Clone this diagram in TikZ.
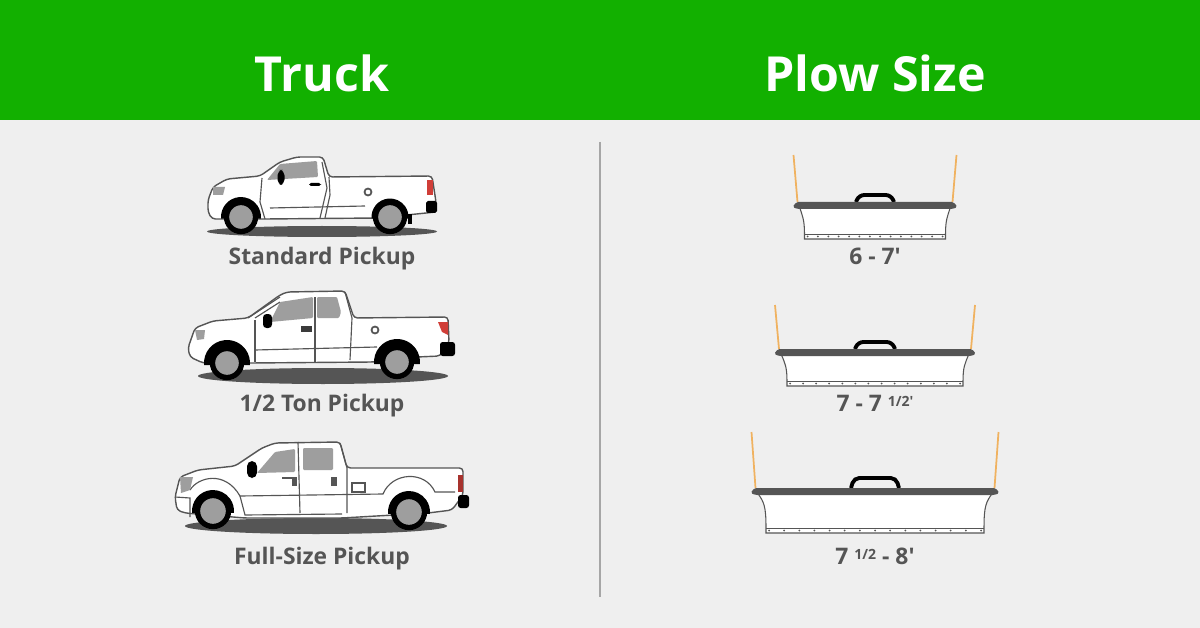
\documentclass[tikz,border=0pt]{standalone}
\usepackage{fontspec}
\setmainfont{Open Sans}
\definecolor{headgreen}{RGB}{18,176,0}
\definecolor{pagegray}{RGB}{239,239,239}
\definecolor{inkgray}{RGB}{85,85,85}
\definecolor{glassgray}{RGB}{158,158,158}
\definecolor{plowrope}{RGB}{240,178,96}
\definecolor{lampred}{RGB}{208,62,56}
\tikzset{
  title/.style={text=white,font=\fontsize{27.5}{32}\selectfont\bfseries},
  caption/.style={text=inkgray,font=\fontsize{13}{15}\selectfont\bfseries},
  body/.style={draw=inkgray,line width=0.8pt,fill=white,rounded corners=2pt},
  trim/.style={draw=inkgray,line width=0.65pt},
  glass/.style={fill=glassgray,rounded corners=0.6pt},
  tyre/.style={draw=black,line width=3pt,fill=glassgray},
  shade/.style={fill=inkgray},
  lamp/.style={fill=lampred},
  bar/.style={fill=inkgray,rounded corners=1pt},
  blade/.style={draw=inkgray,line width=0.6pt,fill=white},
  grip/.style={draw=black,line width=2.2pt,rounded corners=3pt},
  rope/.style={draw=plowrope,line width=1pt}
}
\newcommand{\truckwheel}[4]{
  \fill[black] ([shift={(175:#4)}]#1,#2) arc[start angle=175,end angle=365,radius=#4] -- cycle;
  \draw[tyre] (#1,#2) circle[radius=#3];
}
\begin{document}
\begin{tikzpicture}[x=0.02cm,y=-0.02cm]
  \useasboundingbox (0,0) rectangle (1200,628);
  \fill[pagegray] (0,0) rectangle (1200,628);
  \fill[headgreen] (0,0) rectangle (1200,120);
  \node[title] (trucktitle) at (322,73) {Truck};
  \node[title] (plowtitle) at (875,73) {Plow Size};
  \draw[draw=gray!70,line width=1.1pt] (600,142) -- (600,597);

  % standard pickup
  \fill[shade] (322,231.5) ellipse[x radius=115,y radius=5.5];
  \draw[body] (208,200) -- (213,187) -- (227,179) -- (260,176) -- (280,162) -- (297,157) -- (323,157)
    -- (329,177) -- (432,176) -- (436,202) -- (436,212) -- (377,218) -- (265,219) -- (212,219) -- (208,212) -- cycle;
  \fill[black] (408,214) rectangle (412,224);
  \truckwheel{241}{217}{14.5}{20}
  \truckwheel{390}{217}{14.5}{18.5}
  \draw[trim] (262,178) -- (260,202) -- (265,219);
  \draw[trim] (322,162) -- (327,188) -- (320,218);
  \draw[trim] (329,177) -- (330,195) -- (325,218);
  \draw[trim] (270,208) -- (365,206);
  \fill[glass] (267,180) -- (280,164) -- (317,161) -- (318,177) -- cycle;
  \fill[black,rounded corners=3pt] (277.5,170) rectangle (284.5,185);
  \fill[black,rounded corners=1pt] (309,183) rectangle (321,186);
  \draw[trim,line width=1pt] (368,192) circle[radius=3.5];
  \fill[glassgray] (213,187) -- (225,187) -- (223,195) -- (213,195) -- cycle;
  \fill[lamp] (427,180) rectangle (433,195);
  \fill[black,rounded corners=1pt] (426,201) rectangle (437,213);
  \node[caption] (standardcap) at (322,258.5) {Standard Pickup};

  % half ton pickup
  \fill[shade] (323,376) ellipse[x radius=125,y radius=8];
  \draw[body] (188,348) -- (195,328) -- (213,321) -- (248,318) -- (280,295) -- (287,292) -- (345,291)
    -- (354,318) -- (448,317) -- (449,343) -- (440,356) -- (417,357) -- (373,362) -- (250,363) -- (203,363) -- (190,357) -- cycle;
  \truckwheel{227}{363}{14.5}{23}
  \truckwheel{397}{362}{14.5}{23}
  \draw[trim] (255,320) -- (255,362);
  \draw[trim] (315,297) -- (315,362);
  \draw[trim] (345,292) -- (352,318) -- (350,360);
  \draw[trim] (255,350) -- (377,347);
  \draw[trim] (248,318) -- (280,297);
  \draw[trim] (255,318) -- (280,302);
  \fill[glass] (270,322) -- (280,302) -- (313,297) -- (313,318) -- cycle;
  \fill[glass] (317,297) -- (337,297) -- (341,312) -- (339,318) -- (317,318) -- cycle;
  \fill[black,rounded corners=2pt] (263,314) rectangle (272,328);
  \fill[inkgray!70!black] (301,326) rectangle (312,332);
  \draw[trim,line width=1pt] (375,330) circle[radius=3.5];
  \fill[glassgray] (195,330) -- (205,330) -- (204,339) -- (197,340) -- cycle;
  \fill[lamp] (438,322) -- (448,322) -- (448,335) -- (442,332) -- cycle;
  \fill[black,rounded corners=1.5pt] (440,342) rectangle (455,356);
  \node[caption] (halftoncap) at (322,405.5) {1/2 Ton Pickup};

  % full size pickup
  \fill[shade] (316,526) ellipse[x radius=131,y radius=8];
  \draw[body] (175,497) -- (180,477) -- (198,470) -- (235,466) -- (262,448) -- (275,443) -- (340,442)
    -- (347,468) -- (463,468) -- (463,495) -- (452,510) -- (428,513) -- (342,518) -- (245,518) -- (185,513) -- (177,510) -- cycle;
  \draw[trim] (190,490) .. controls (198,477) and (225,470) .. (240,496) -- (383,494)
    .. controls (392,472) and (425,470) .. (435,492) -- (455,492);
  \truckwheel{213}{511}{15.5}{21}
  \truckwheel{409}{512}{15.5}{21}
  \draw[trim] (298,442) -- (300,513);
  \draw[trim] (340,443) -- (347,468) -- (347,513);
  \draw[trim] (240,496) -- (245,515) -- (342,514);
  \fill[glass] (257,473) -- (275,452) -- (295,449) -- (295,472) -- cycle;
  \fill[glass] (303,448) rectangle (333,470);
  \fill[black,rounded corners=3pt] (247,461) rectangle (257,478);
  \fill[inkgray] (292,477) rectangle (297,486);
  \draw[trim] (282,478) -- (292,478);
  \fill[inkgray] (331,477) rectangle (337,486);
  \draw[trim,fill=white] (352,483) rectangle (365,492);
  \fill[glassgray] (180,477) -- (193,477) -- (190,490) -- (181,493) -- cycle;
  \fill[lampred!80!black] (458,475) -- (463,475) -- (463,492) -- (458,492) -- cycle;
  \fill[black,rounded corners=1.5pt] (458,495) rectangle (469,508);
  \draw[trim] (175,497) -- (190,498) -- (190,517);
  \node[caption] (fullsizecap) at (322,558.5) {Full-Size Pickup};

  % plows, half width / bar top / blade bottom / inset / rope top / grip half width / grip height
  \foreach \hw/\ty/\by/\ins/\ry/\gw/\gh/\bn in {82.5/202/239/12/155/19/7/13,101/349/386/13/305/20/7/13,124.5/488/533/15.5/432/24/10/14}{
    \draw[rope] ({875-\hw+1},\ry) -- ({875-\hw+5},\ty);
    \draw[rope] ({875+\hw-1},\ry) -- ({875+\hw-5},\ty);
    \draw[grip] ({875-\gw},\ty) -- ({875-\gw+3},{\ty-\gh}) -- ({875+\gw-3},{\ty-\gh}) -- ({875+\gw},\ty);
    \draw[blade] ({875-\hw+7},{\ty+5}) .. controls ({875-\hw+\ins-2},{\ty+14}) and ({875-\hw+\ins},{\ty+18}) .. ({875-\hw+\ins},{\by-5})
      -- ({875-\hw+\ins},\by) -- ({875+\hw-\ins},\by) -- ({875+\hw-\ins},{\by-5})
      .. controls ({875+\hw-\ins},{\ty+18}) and ({875+\hw-\ins+2},{\ty+14}) .. ({875+\hw-7},{\ty+5});
    \draw[blade] ({875-\hw+\ins},{\by-4.5}) -- ({875+\hw-\ins},{\by-4.5});
    \foreach \k in {0,...,\bn}
      \fill[inkgray] ({875-\hw+\ins+3+\k*(2*\hw-2*\ins-6)/\bn},{\by-2.5}) circle[radius=1];
    \fill[bar] ({875-\hw},{\ty+5}) -- ({875-\hw+4},\ty) -- ({875+\hw-4},\ty) -- ({875+\hw},{\ty+5}) -- ({875+\hw-5},{\ty+7}) -- ({875-\hw+5},{\ty+7}) -- cycle;
  }
  \node[caption] (sizeone) at (875,256.5) {6 - 7′};
  \node[caption] (sizetwo) at (875,403.5) {7 - 7 \raisebox{0.45ex}{\fontsize{8}{9}\selectfont 1/2′}};
  \node[caption] (sizethree) at (875,556.5) {7 \raisebox{0.45ex}{\fontsize{8}{9}\selectfont 1/2} - 8′};
\end{tikzpicture}
\end{document}
